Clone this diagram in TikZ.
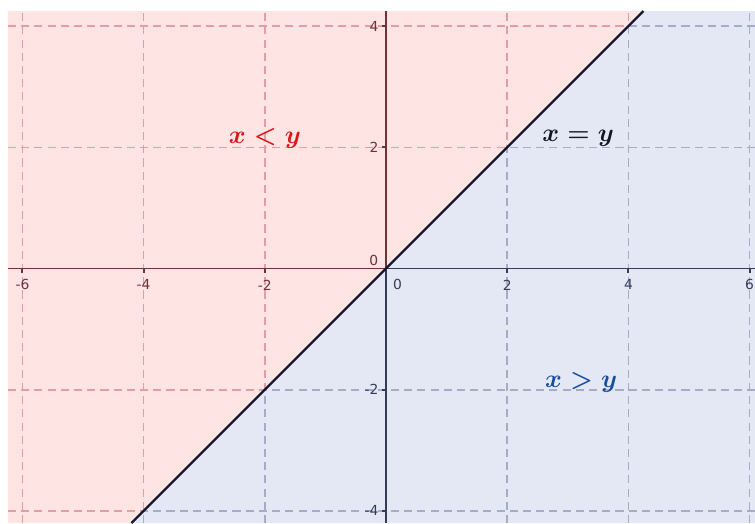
\documentclass[tikz,border=0pt]{standalone}
\usepackage{fontspec}
\newfontfamily\tickfont{DejaVu Sans}
\definecolor{pinkfill}{RGB}{255,228,228}
\definecolor{bluefill}{RGB}{228,232,245}
\definecolor{pinkgrid}{RGB}{224,158,165}
\definecolor{bluegrid}{RGB}{165,173,198}
\definecolor{pinkaxis}{RGB}{110,50,56}
\definecolor{blueaxis}{RGB}{52,60,88}
\definecolor{linecol}{RGB}{22,24,48}
\definecolor{redtext}{RGB}{220,20,24}
\definecolor{bluetext}{RGB}{22,78,160}
\definecolor{darktext}{RGB}{20,22,34}
\tikzset{
  gridline/.style={line width=0.75pt, dash pattern=on 3.8pt off 2.4pt},
  axisline/.style={line width=0.9pt},
  ticklab/.style={font=\tickfont\fontsize{6.5}{7}\selectfont, inner sep=0pt},
  regionlab/.style={font=\fontsize{12.5}{14}\selectfont\boldmath, inner sep=0pt},
}
\begin{document}
\begin{tikzpicture}[x=1cm,y=1cm]
\useasboundingbox (-6.370,-4.200) rectangle (6.089,4.431);
\fill[white] (-6.370,-4.200) rectangle (6.089,4.431);
% corners of the coloured area
\coordinate (TL) at (-6.238,4.249);
\coordinate (TR) at (6.089,4.249);
\coordinate (BL) at (-6.238,-4.200);
\coordinate (BR) at (6.089,-4.200);
\coordinate (LT) at (4.249,4.249);
\coordinate (LB) at (-4.200,-4.200);
% regions
\fill[pinkfill] (TL) -- (LT) -- (LB) -- (BL) -- cycle;
\fill[bluefill] (LT) -- (TR) -- (BR) -- (LB) -- cycle;
% grid and axes in the pink region
\begin{scope}
  \clip (TL) -- (LT) -- (LB) -- (BL) -- cycle;
  \foreach \g in {-6,-4,-2,2,4,6} \draw[gridline,pinkgrid] (\g,-4.2) -- (\g,4.249);
  \foreach \g in {-4,-2,2,4} \draw[gridline,pinkgrid] (-6.238,\g) -- (6.089,\g);
  \draw[axisline,pinkaxis] (-6.238,0) -- (6.089,0);
  \draw[axisline,pinkaxis] (0,-4.2) -- (0,4.249);
  \foreach \g in {-6,-4,-2,2,4,6} \draw[axisline,pinkaxis] (\g,0) -- (\g,-0.07);
  \foreach \g in {-4,-2,2,4} \draw[axisline,pinkaxis] (0,\g) -- (-0.07,\g);
\end{scope}
% grid and axes in the blue region
\begin{scope}
  \clip (LT) -- (TR) -- (BR) -- (LB) -- cycle;
  \foreach \g in {-6,-4,-2,2,4,6} \draw[gridline,bluegrid] (\g,-4.2) -- (\g,4.249);
  \foreach \g in {-4,-2,2,4} \draw[gridline,bluegrid] (-6.238,\g) -- (6.089,\g);
  \draw[axisline,blueaxis] (-6.238,0) -- (6.089,0);
  \draw[axisline,blueaxis] (0,-4.2) -- (0,4.249);
  \foreach \g in {-6,-4,-2,2,4,6} \draw[axisline,blueaxis] (\g,0) -- (\g,-0.07);
  \foreach \g in {-4,-2,2,4} \draw[axisline,blueaxis] (0,\g) -- (-0.07,\g);
\end{scope}
% the line x = y
\draw[line width=1.1pt, linecol] (LB) -- (LT);
% tick labels
\node[ticklab, pinkaxis] (xm6) at (-6,-0.27) {-6};
\node[ticklab, pinkaxis] (xm4) at (-4,-0.27) {-4};
\node[ticklab, pinkaxis] (xm2) at (-2,-0.27) {-2};
\node[ticklab, blueaxis] (x0) at (0.19,-0.27) {0};
\node[ticklab, blueaxis] (x2) at (2,-0.27) {2};
\node[ticklab, blueaxis] (x4) at (4,-0.27) {4};
\node[ticklab, blueaxis] (x6) at (6,-0.27) {6};
\node[ticklab, pinkaxis] (y0) at (-0.2,0.13) {0};
\node[ticklab, pinkaxis, anchor=east] (y2) at (-0.12,2) {2};
\node[ticklab, pinkaxis, anchor=east] (y4) at (-0.12,4) {4};
\node[ticklab, blueaxis, anchor=east] (ym2) at (-0.12,-2) {-2};
\node[ticklab, blueaxis, anchor=east] (ym4) at (-0.12,-4) {-4};
% region labels
\node[regionlab, redtext] (lt) at (-2.0,2.15) {$x<y$};
\node[regionlab, darktext] (eq) at (3.17,2.15) {$x=y$};
\node[regionlab, bluetext] (gt) at (3.22,-1.88) {$x>y$};
\end{tikzpicture}
\end{document}
